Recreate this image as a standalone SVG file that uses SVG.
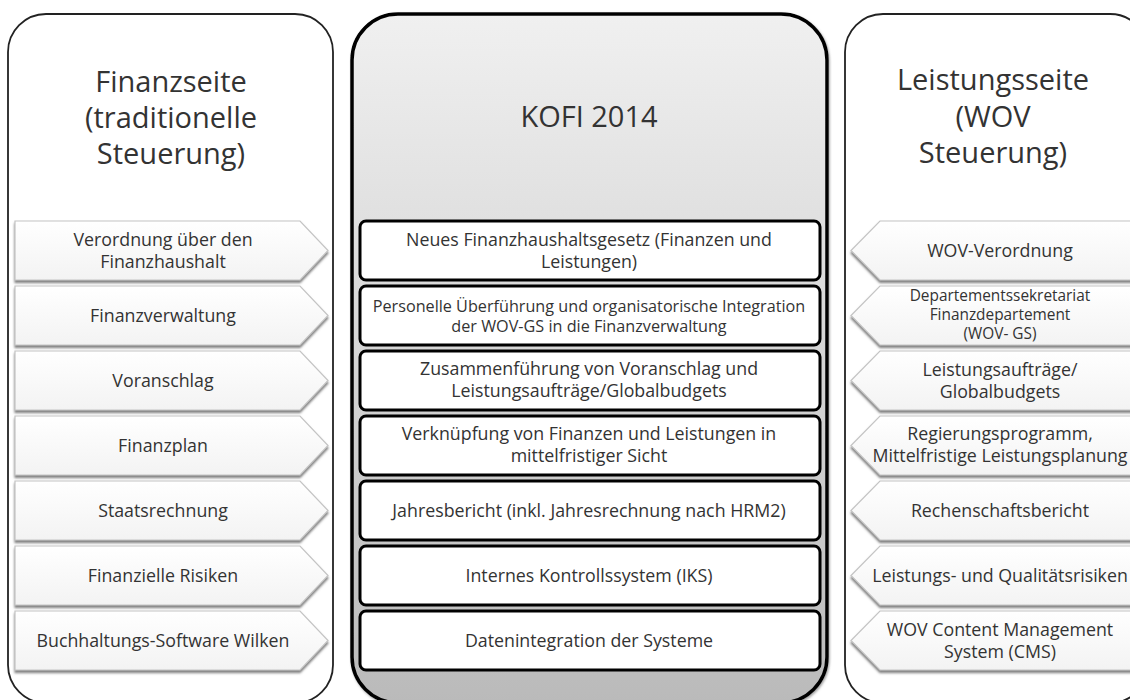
<svg xmlns="http://www.w3.org/2000/svg" width="1130" height="700" viewBox="0 0 1130 700">
<style>
.t{font-family:"Open Sans","Liberation Sans",sans-serif;fill:#333;text-anchor:middle}
.title{font-size:29px}
.s{font-size:17.8px}
.xs{font-size:16.2px}
.xxs{font-size:15.4px}
.side{fill:#fff;stroke:#222;stroke-width:1.8}
.mid{fill:url(#gmid);stroke:#000;stroke-width:3.5}
.arr{fill:url(#garr);stroke:#c4c4c4;stroke-width:1.2;filter:url(#sh)}
.box{fill:#fff;stroke:#000;stroke-width:3}
</style>
<defs>
<linearGradient id="gmid" x1="0" y1="0" x2="0" y2="1">
<stop offset="0" stop-color="#f0f0f0"/>
<stop offset="0.3" stop-color="#e0e0e0"/>
<stop offset="1" stop-color="#bababa"/>
</linearGradient>
<linearGradient id="garr" x1="0" y1="0" x2="0" y2="1">
<stop offset="0" stop-color="#ffffff"/>
<stop offset="1" stop-color="#f3f3f3"/>
</linearGradient>
<filter id="sh" x="-5%" y="-10%" width="110%" height="130%">
<feDropShadow dx="0" dy="2.5" stdDeviation="1.2" flood-color="#666" flood-opacity="0.85"/>
</filter>
<filter id="sh2" x="-5%" y="-5%" width="110%" height="110%">
<feDropShadow dx="1" dy="1.5" stdDeviation="1.2" flood-color="#666" flood-opacity="0.6"/>
</filter>
</defs>

<g id="panel-left">
<rect class="side" x="8" y="14" width="325" height="689" rx="38"/>
<text class="t title" x="171" y="92">Finanzseite</text>
<text class="t title" x="171" y="128">(traditionelle</text>
<text class="t title" x="171" y="164">Steuerung)</text>
</g>

<g id="panel-center">
<rect class="mid" x="352" y="14" width="475" height="689" rx="46" filter="url(#sh2)"/>
<text class="t title" x="589" y="127">KOFI 2014</text>
</g>

<g id="panel-right">
<rect class="side" x="845" y="14" width="303" height="689" rx="38"/>
<text class="t title" x="993" y="90">Leistungsseite</text>
<text class="t title" x="993" y="127">(WOV</text>
<text class="t title" x="993" y="163">Steuerung)</text>
</g>

<g id="left-items">
<g id="l1"><polygon class="arr" points="15,221 300,221 328,250.5 300,280 15,280"/>
<text class="t s" x="163" y="245.5">Verordnung über den</text><text class="t s" x="163" y="267.5">Finanzhaushalt</text></g>
<g id="l2"><polygon class="arr" points="15,286 300,286 328,315.5 300,345 15,345"/>
<text class="t s" x="163" y="322">Finanzverwaltung</text></g>
<g id="l3"><polygon class="arr" points="15,351 300,351 328,380.5 300,410 15,410"/>
<text class="t s" x="163" y="387">Voranschlag</text></g>
<g id="l4"><polygon class="arr" points="15,416 300,416 328,445.5 300,475 15,475"/>
<text class="t s" x="163" y="452">Finanzplan</text></g>
<g id="l5"><polygon class="arr" points="15,481 300,481 328,510.5 300,540 15,540"/>
<text class="t s" x="163" y="517">Staatsrechnung</text></g>
<g id="l6"><polygon class="arr" points="15,546 300,546 328,575.5 300,605 15,605"/>
<text class="t s" x="163" y="582">Finanzielle Risiken</text></g>
<g id="l7"><polygon class="arr" points="15,611 300,611 328,640.5 300,670 15,670"/>
<text class="t s" x="163" y="647">Buchhaltungs-Software Wilken</text></g>
</g>

<g id="center-items">
<g id="c1"><rect class="box" x="360" y="221" width="460" height="59" rx="6"/>
<text class="t s" x="589" y="246">Neues Finanzhaushaltsgesetz (Finanzen und</text><text class="t s" x="589" y="268">Leistungen)</text></g>
<g id="c2"><rect class="box" x="360" y="286" width="460" height="59" rx="6"/>
<text class="t xs" x="589" y="311.5">Personelle Überführung und organisatorische Integration</text><text class="t xs" x="589" y="331.5">der WOV-GS in die Finanzverwaltung</text></g>
<g id="c3"><rect class="box" x="360" y="351" width="460" height="59" rx="6"/>
<text class="t s" x="589" y="375">Zusammenführung von Voranschlag und</text><text class="t s" x="589" y="397">Leistungsaufträge/Globalbudgets</text></g>
<g id="c4"><rect class="box" x="360" y="416" width="460" height="59" rx="6"/>
<text class="t s" x="589" y="440">Verknüpfung von Finanzen und Leistungen in</text><text class="t s" x="589" y="462">mittelfristiger Sicht</text></g>
<g id="c5"><rect class="box" x="360" y="481" width="460" height="59" rx="6"/>
<text class="t s" x="589" y="517">Jahresbericht (inkl. Jahresrechnung nach HRM2)</text></g>
<g id="c6"><rect class="box" x="360" y="546" width="460" height="59" rx="6"/>
<text class="t s" x="589" y="582">Internes Kontrollssystem (IKS)</text></g>
<g id="c7"><rect class="box" x="360" y="611" width="460" height="59" rx="6"/>
<text class="t s" x="589" y="647">Datenintegration der Systeme</text></g>
</g>

<g id="right-items">
<g id="r1"><polygon class="arr" points="1143,221 880,221 851,250.5 880,280 1143,280"/>
<text class="t s" x="1000" y="257">WOV-Verordnung</text></g>
<g id="r2"><polygon class="arr" points="1143,286 880,286 851,315.5 880,345 1143,345"/>
<text class="t xxs" x="1000" y="301">Departementssekretariat</text><text class="t xxs" x="1000" y="320">Finanzdepartement</text><text class="t xxs" x="1000" y="339">(WOV- GS)</text></g>
<g id="r3"><polygon class="arr" points="1143,351 880,351 851,380.5 880,410 1143,410"/>
<text class="t s" x="1000" y="375.5">Leistungsaufträge/</text><text class="t s" x="1000" y="397.5">Globalbudgets</text></g>
<g id="r4"><polygon class="arr" points="1143,416 880,416 851,445.5 880,475 1143,475"/>
<text class="t s" x="1000" y="439.5">Regierungsprogramm,</text><text class="t s" x="1000" y="461.5">Mittelfristige Leistungsplanung</text></g>
<g id="r5"><polygon class="arr" points="1143,481 880,481 851,510.5 880,540 1143,540"/>
<text class="t s" x="1000" y="517">Rechenschaftsbericht</text></g>
<g id="r6"><polygon class="arr" points="1143,546 880,546 851,575.5 880,605 1143,605"/>
<text class="t s" x="1000" y="582">Leistungs- und Qualitätsrisiken</text></g>
<g id="r7"><polygon class="arr" points="1143,611 880,611 851,640.5 880,670 1143,670"/>
<text class="t s" x="1000" y="636">WOV Content Management</text><text class="t s" x="1000" y="658">System (CMS)</text></g>
</g>

<g id="connectors"></g>
</svg>
